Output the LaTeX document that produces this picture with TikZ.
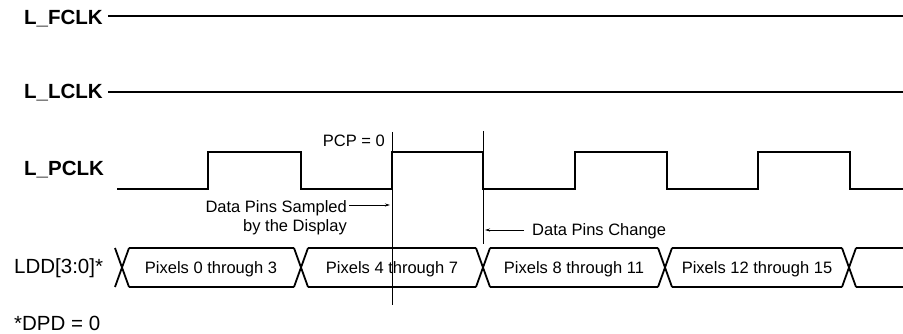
\documentclass[tikz,border=0pt]{standalone}
\usepackage{fontspec}
\setmainfont{Liberation Sans}
\usetikzlibrary{arrows.meta}
\begin{document}
\begin{tikzpicture}[x=1pt,y=-1pt,
  lbl/.style={inner sep=0pt,font=\fontsize{20.5}{22}\selectfont\bfseries},
  big/.style={inner sep=0pt,font=\fontsize{20.5}{22}\selectfont},
  txt/.style={inner sep=0pt,font=\fontsize{16.5}{19}\selectfont},
  sig/.style={line width=1.8pt,line join=miter},
  mark line/.style={line width=0.9pt},
  ptr/.style={line width=0.8pt,-{Stealth[length=5pt,width=3pt]}}]
\useasboundingbox (0,0) rectangle (903,334);
% labels
\node[lbl,anchor=base west] (fclk) at (24,25) {L\_FCLK};
\node[lbl,anchor=base west] (lclk) at (24,99) {L\_LCLK};
\node[lbl,anchor=base west] (pclk) at (24,176) {L\_PCLK};
\node[big,anchor=base west] (ldd) at (14,273) {LDD[3:0]*};
\node[big,anchor=base west] (dpd) at (14,330) {*DPD = 0};
% frame / line clocks
\coordinate (fs) at (108,16); \coordinate (fe) at (903,16);
\coordinate (ls) at (108,92); \coordinate (le) at (903,92);
\draw[sig] (fs) -- (fe);
\draw[sig] (ls) -- (le);
% pixel clock
\draw[sig] (117,189) -- (208,189) -- (208,152) -- (301,152) -- (301,189)
  -- (392,189) -- (392,152) -- (483,152) -- (483,189) -- (575,189)
  -- (575,152) -- (667,152) -- (667,189) -- (758,189) -- (758,152)
  -- (850,152) -- (850,189) -- (903,189);
% marker lines
\coordinate (m1t) at (392,132); \coordinate (m1b) at (392,305);
\coordinate (m2t) at (483,131); \coordinate (m2b) at (483,244);
\draw[mark line] (m1t) -- (m1b);
\draw[mark line] (m2t) -- (m2b);
\node[txt,anchor=base east] (pcp) at (385,147) {PCP = 0};
% annotations
\node[txt,anchor=base east] (samp1) at (347,213) {Data Pins Sampled};
\node[txt,anchor=base east] (samp2) at (347,232) {by the Display};
\coordinate (sa) at (349,205); \coordinate (sb) at (390,205);
\draw[ptr] (sa) -- (sb);
\node[txt,anchor=base west] (chg) at (532,236) {Data Pins Change};
\coordinate (ca) at (524,230); \coordinate (cb) at (485,230);
\draw[ptr] (ca) -- (cb);
% data bus
\def\bt{248}\def\bb{287}\def\bh{7}
\foreach \c in {122,301,483,665,849}{
  \draw[sig,line join=round] (\c-\bh,\bt) -- (\c+\bh,\bb);
  \draw[sig,line join=round] (\c-\bh,\bb) -- (\c+\bh,\bt);
}
\foreach \a/\b in {122/301,301/483,483/665,665/849}{
  \draw[sig] (\a+\bh,\bt) -- (\b-\bh,\bt);
  \draw[sig] (\a+\bh,\bb) -- (\b-\bh,\bb);
}
\draw[sig] (849+\bh,\bt) -- (903,\bt);
\draw[sig] (849+\bh,\bb) -- (903,\bb);
\node[txt,anchor=base] (p0) at (211,273) {Pixels 0 through 3};
\node[txt,anchor=base] (p4) at (392,273) {Pixels 4 through 7};
\node[txt,anchor=base] (p8) at (574,273) {Pixels 8 through 11};
\node[txt,anchor=base] (p12) at (757,273) {Pixels 12 through 15};
\end{tikzpicture}
\end{document}
